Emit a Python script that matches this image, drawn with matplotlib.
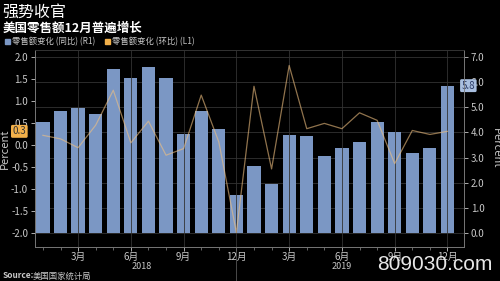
import numpy as np
import matplotlib
matplotlib.use('Agg')
import matplotlib.pyplot as plt
import matplotlib.transforms as mtransforms

plt.rcParams['font.family'] = ['Noto Sans CJK SC', 'DejaVu Sans']

# data: Jan 2018 .. Dec 2019
yoy = [4.40, 4.83, 4.98, 4.71, 6.52, 6.14, 6.59, 6.14, 3.95, 4.86, 4.15, 1.54,
       2.67, 1.94, 3.89, 3.85, 3.06, 3.37, 3.60, 4.41, 4.03, 3.18, 3.39, 5.85]
mom = [0.22, 0.14, -0.06, 0.45, 1.24, 0.05, 0.54, -0.23, -0.08, 1.13, 0.07, -1.98,
       1.33, -0.54, 1.80, 0.37, 0.49, 0.37, 0.73, 0.56, -0.42, 0.33, 0.24, 0.31]
tick_idx = [2, 5, 8, 11, 14, 17, 20, 23]
tick_labels = ['3月', '6月', '9月', '12月', '3月', '6月', '9月', '12月']
years = ['2018', '2019']

bar_color = '#7b97c4'
line_color = '#f0c080'
txt = '#c8c8c8'

fig = plt.figure(figsize=(5, 2.81), dpi=100, facecolor='black')
axl = fig.add_axes([0.07, 0.122, 0.858, 0.7], facecolor='black')
axr = axl.twinx()

x = np.arange(len(yoy))
axr.bar(x, yoy, width=0.75, color=bar_color, zorder=2)
axr.set_ylim(-0.525, 7.26)
axr.set_yticks(np.arange(0, 8, 1.0))
axr.set_yticklabels(['%.1f' % v for v in np.arange(0, 8, 1.0)])
axr.grid(axis='y', color='#333333', linewidth=0.6, zorder=0)

axl.set_zorder(axr.get_zorder() + 1)
axl.patch.set_visible(False)
axl.plot(x, mom, color=line_color, alpha=0.6, linewidth=0.9)
axl.set_ylim(-2.3, 2.15)
axl.set_yticks(np.arange(-2, 2.01, 0.5))
axl.set_yticklabels(['%.1f' % v for v in np.arange(-2, 2.01, 0.5)])
axl.set_xlim(-0.45, 23.94)
axl.set_xticks(tick_idx)
axl.set_xticklabels(tick_labels)
axl.set_xticks(x, minor=True)
axl.grid(axis='x', color='#333333', linewidth=0.6)

for ax in (axl, axr):
    ax.tick_params(colors=txt, labelsize=7, length=3, width=0.6, pad=2)
    ax.tick_params(which='minor', colors='#777777', length=2)
    for s in ax.spines.values():
        s.set_color('#777777')
        s.set_linewidth(0.6)
    ax.spines['top'].set_color('#333333')
axl.tick_params(axis='x', pad=1)

axl.set_ylabel('Percent', color=txt, fontsize=8)
axl.yaxis.set_label_coords(-0.058, 0.5)
axr.set_ylabel('Percent', color=txt, fontsize=8, rotation=-90)
axr.yaxis.set_label_coords(1.085, 0.5)

trans = mtransforms.blended_transform_factory(axl.transData, axl.transAxes)
axl.text(5.6, -0.1, years[0], transform=trans, color=txt, fontsize=6.5, ha='center', va='center')
axl.text(17, -0.1, years[1], transform=trans, color=txt, fontsize=6.5, ha='center', va='center')
axl.plot([11, 11], [0, -0.17], transform=trans, color='#555555', linewidth=0.6, clip_on=False)

# last value labels
axl.text(-0.95, mom[-1], '%.1f' % mom[-1], ha='right', va='center', fontsize=7, color='#333333',
         bbox=dict(boxstyle='round,pad=0.15', fc='#f2b04a', ec='none'), zorder=5)
axr.text(23.8, yoy[-1], '%.1f' % yoy[-1], ha='left', va='center', fontsize=7, color='#2a3a66',
         bbox=dict(boxstyle='round,pad=0.15', fc='#a9bfe0', ec='none'), zorder=5, clip_on=False)

fig.text(0.005, 0.955, '强势收官', color='white', fontsize=11.5, va='center')
fig.text(0.005, 0.9, '美国零售额12月普遍增长', color='white', fontsize=9, fontweight='bold', va='center')
fig.patches.append(plt.Rectangle((0.01, 0.843), 0.01, 0.018, transform=fig.transFigure, color=bar_color))
fig.text(0.025, 0.852, '零售额变化 (同比) (R1)', color=txt, fontsize=6, va='center')
fig.patches.append(plt.Rectangle((0.21, 0.843), 0.01, 0.018, transform=fig.transFigure, color='#f2b04a'))
fig.text(0.225, 0.852, '零售额变化 (环比) (L1)', color=txt, fontsize=6, va='center')
fig.text(0.005, 0.018, 'Source:', color=txt, fontsize=6, fontweight='bold', va='center')
fig.text(0.065, 0.018, '美国国家统计局', color=txt, fontsize=6, va='center')
fig.text(0.984, 0.057, '809030.com', color='#e8e8e8', fontsize=15, ha='right', va='center',
         family='Liberation Sans')

fig.savefig('out.png', dpi=100, facecolor='black')
